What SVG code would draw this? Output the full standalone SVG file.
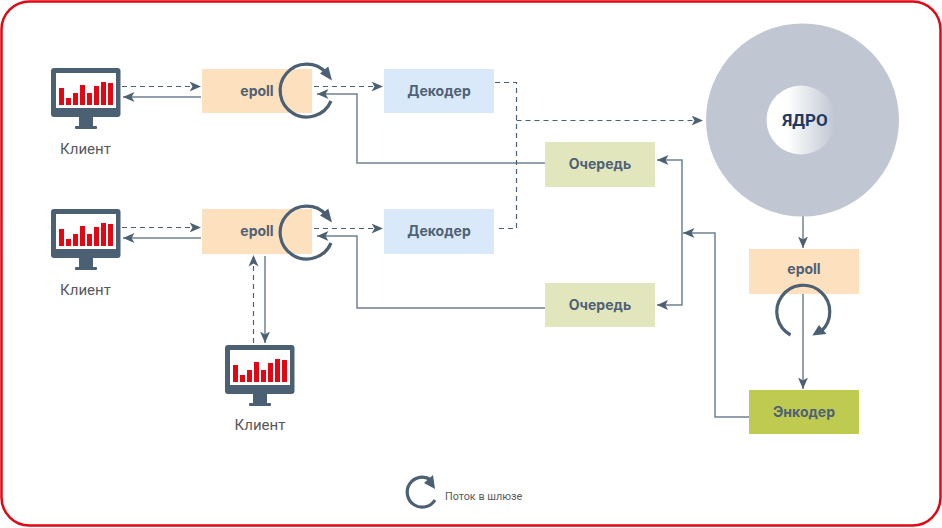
<svg xmlns="http://www.w3.org/2000/svg" width="942" height="528" viewBox="0 0 942 528">
<style>
text{font-family:Roboto,"Liberation Sans",sans-serif}
.lbl{font-family:Inter,Roboto,sans-serif;font-size:14px;font-weight:700;fill:#4f6175;text-anchor:middle}
.cl{font-size:15px;fill:#58595b;text-anchor:middle}
.s{fill:none;stroke:#6f8192;stroke-width:1.5}
.d{fill:none;stroke:#4c6074;stroke-width:1.2;stroke-dasharray:5 4}
.loop{fill:none;stroke:#4c6074;stroke-width:3.2}
.head{fill:#4c6074}
</style>
<defs>
<marker id="a" markerUnits="userSpaceOnUse" markerWidth="13" markerHeight="13" refX="11.500" refY="6" orient="auto"><path d="M0 1L11.500 6L0 11L3 6Z" class="head"/></marker>
<linearGradient id="g" x1="0" x2="1" y1="0" y2="0"><stop offset=".3" stop-color="#fff"/><stop offset="1" stop-color="#bfc5d0"/></linearGradient>
<g id="mon"><rect x="0" y="0" width="69.500" height="49" rx="3" fill="#4c6074"/><rect x="5" y="5" width="60" height="35" fill="#fff"/><rect x="28" y="49" width="14" height="10" fill="#4c6074"/><rect x="24" y="58" width="22" height="3" rx="1" fill="#4c6074"/><g fill="#e30613"><rect x="8" y="20" width="5" height="17"/><rect x="15" y="30" width="5" height="7"/><rect x="22" y="25" width="5" height="12"/><rect x="29" y="17" width="5" height="20"/><rect x="36" y="25" width="5" height="12"/><rect x="43" y="18" width="5" height="19"/><rect x="50" y="14" width="5" height="23"/><rect x="57" y="15" width="5" height="22"/></g></g>
<g id="lp"><path class="loop" d="M24.500 11A26.500 26.500 0 1 1 20 -17"/><path class="head" d="M21.800 -23.500L25.500 -9.500L13.500 -16.500Z"/></g>
</defs>
<rect x="1.500" y="1.500" width="939" height="524" rx="28" fill="#fff" stroke="#e30613" stroke-width="2.500"/>
<g id="connectors">
<path class="d" d="M122 86.500H201" marker-end="url(#a)"/>
<path class="s" d="M201 97H123" marker-end="url(#a)"/>
<path class="d" d="M314 86.500H383" marker-end="url(#a)"/>
<path class="s" d="M545 163H357V94H317" marker-end="url(#a)"/>
<path class="d" d="M122 227.500H201" marker-end="url(#a)"/>
<path class="s" d="M201 238H123" marker-end="url(#a)"/>
<path class="d" d="M314 228.500H383" marker-end="url(#a)"/>
<path class="s" d="M545 308H357V236H317" marker-end="url(#a)"/>
<path class="d" d="M253.500 343V255" marker-end="url(#a)"/>
<path class="s" d="M265 256V343" marker-end="url(#a)"/>
<path class="d" d="M495 82.500H516.500V228.500H495"/>
<path class="d" d="M516.500 120.500H703" marker-end="url(#a)"/>
<path class="s" d="M803 216V248" marker-end="url(#a)"/>
<path class="s" d="M803 294V389" marker-end="url(#a)"/>
<path class="s" d="M749 417H715V233H683" marker-end="url(#a)"/>
<path class="s" d="M657 305H682V160H657" marker-end="url(#a)"/>
<path class="head" d="M657 305L668 300L665.500 305L668 310Z"/>
</g>
<g id="client1"><use href="#mon" x="51" y="68"/><text class="cl" x="85.500" y="154">Клиент</text></g>
<g id="client2"><use href="#mon" x="51" y="209"/><text class="cl" x="85.500" y="295">Клиент</text></g>
<g id="client3"><use href="#mon" x="225" y="345"/><text class="cl" x="260" y="430">Клиент</text></g>
<g id="epoll1"><rect x="202" y="69" width="110" height="44" fill="#fde0bd"/><text class="lbl" x="257" y="96">epoll</text><use href="#lp" x="306.500" y="90"/></g>
<g id="epoll2"><rect x="202" y="209" width="110" height="45" fill="#fde0bd"/><text class="lbl" x="257" y="236">epoll</text><use href="#lp" x="306.500" y="232"/></g>
<g id="dec1"><rect x="384" y="69" width="110" height="44" fill="#d9e9fa"/><text class="lbl" x="439" y="96">Декодер</text></g>
<g id="dec2"><rect x="384" y="209" width="110" height="45" fill="#d9e9fa"/><text class="lbl" x="439" y="236">Декодер</text></g>
<g id="q1"><rect x="545" y="142" width="110" height="45" fill="#e1e6bd"/><text class="lbl" x="600" y="169">Очередь</text></g>
<g id="q2"><rect x="545" y="283" width="110" height="44" fill="#e1e6bd"/><text class="lbl" x="600" y="310">Очередь</text></g>
<g id="core"><circle cx="802.500" cy="120" r="96.500" fill="#c1c7d2"/><circle cx="801" cy="120" r="34.500" fill="url(#g)"/><text x="805" y="126" font-family="Inter,Roboto,sans-serif" font-size="17" font-weight="700" fill="#1f3864" text-anchor="middle">ЯДРО</text></g>
<g id="epoll3"><rect x="749" y="249" width="110" height="45" fill="#fde0bd"/><text class="lbl" x="804" y="274">epoll</text><path class="loop" d="M790.500 335A26.500 26.500 0 1 1 821 331.500"/><path class="head" d="M812.300 335.500L826.500 334L819 325Z"/></g>
<g id="encoder"><rect x="749" y="390" width="110" height="44" fill="#bfca50"/><text class="lbl" x="804" y="417">Энкодер</text></g>
<g id="legend"><path class="loop" d="M435 500A15 15 0 1 1 431 480"/><path class="head" d="M435 489L433 475L424 483Z"/><text x="445" y="500" font-size="10.800" fill="#58595b">Поток в шлюзе</text></g>
</svg>
